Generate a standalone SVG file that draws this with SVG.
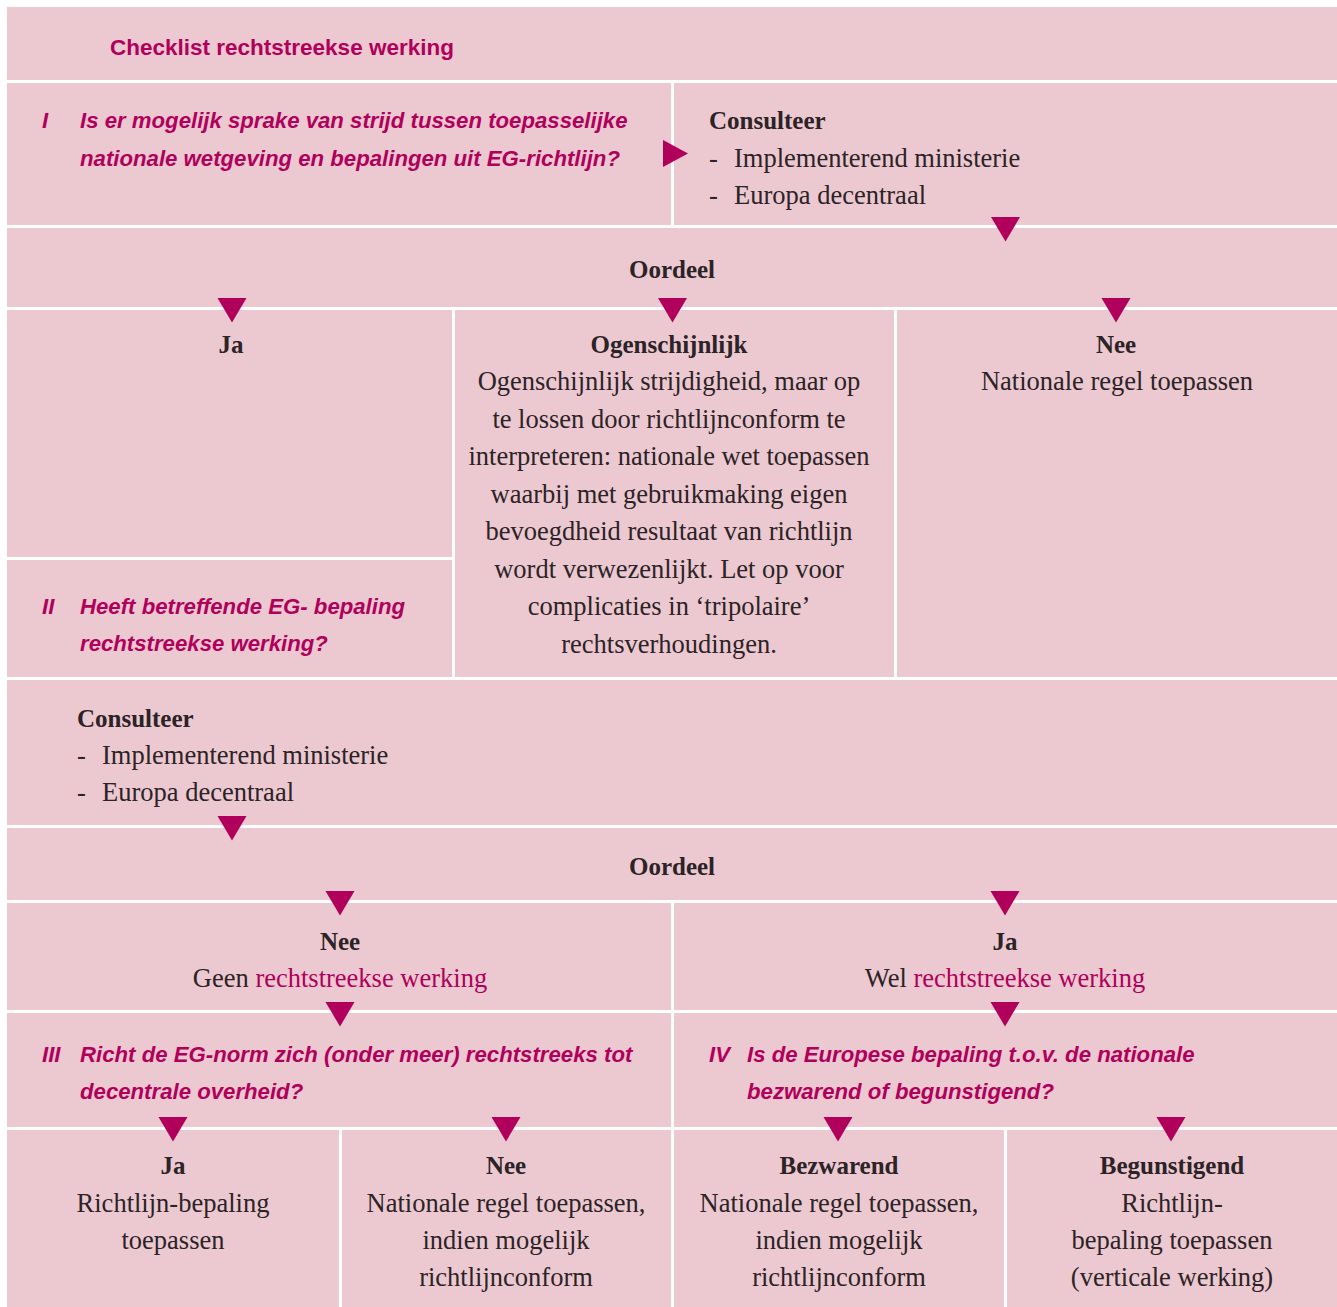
<svg xmlns="http://www.w3.org/2000/svg" xmlns:xlink="http://www.w3.org/1999/xlink" width="1337" height="1307" viewBox="0 0 1337 1307">
<style>
.cell{fill:#ecc8d0}
.tri{fill:#b0005c}
.q{font-family:"Liberation Sans",Arial,sans-serif;font-size:22.2px;font-weight:bold;font-style:italic;fill:#b0005c}
.h{font-family:"Liberation Sans",Arial,sans-serif;font-size:22.5px;font-weight:bold;fill:#b0005c}
.t{font-family:"Liberation Serif","Times New Roman",serif;font-size:26.5px;fill:#2b2326}
.b{font-family:"Liberation Serif","Times New Roman",serif;font-size:25px;font-weight:bold;fill:#2b2326}
.c{text-anchor:middle}
.m{fill:#b0005c}
</style>
<defs>
<path id="down" d="M-14.5,0 L14.5,0 L0,24.5 Z"/>
</defs>
<rect x="0" y="0" width="1337" height="1307" fill="#ffffff"/>
<g id="title"><rect class="cell" x="7" y="7" width="1330" height="73"/><text class="h" x="110" y="55">Checklist rechtstreekse werking</text></g>
<g id="q1"><rect class="cell" x="7" y="83" width="664" height="142"/>
<text class="q" x="42" y="128">I</text>
<text class="q" x="80" y="128">Is er mogelijk sprake van strijd tussen toepasselijke</text>
<text class="q" x="80" y="166">nationale wetgeving en bepalingen uit EG-richtlijn?</text></g>
<g id="consult1"><rect class="cell" x="674" y="83" width="663" height="142"/>
<text class="b" x="709" y="129">Consulteer</text>
<text class="t" x="709" y="167">-</text><text class="t" x="734" y="167">Implementerend ministerie</text>
<text class="t" x="709" y="204">-</text><text class="t" x="734" y="204">Europa decentraal</text></g>
<g id="oordeel1"><rect class="cell" x="7" y="228" width="1330" height="79"/><text class="b c" x="672" y="278">Oordeel</text></g>
<g id="ja1"><rect class="cell" x="7" y="310" width="445" height="247"/><text class="b c" x="231" y="353">Ja</text></g>
<g id="ogenschijnlijk"><rect class="cell" x="455" y="310" width="439" height="367"/>
<text class="b c" x="669" y="353">Ogenschijnlijk</text>
<text class="t c" x="669" y="390">Ogenschijnlijk strijdigheid, maar op</text>
<text class="t c" x="669" y="427.5">te lossen door richtlijnconform te</text>
<text class="t c" x="669" y="465">interpreteren: nationale wet toepassen</text>
<text class="t c" x="669" y="502.5">waarbij met gebruikmaking eigen</text>
<text class="t c" x="669" y="540">bevoegdheid resultaat van richtlijn</text>
<text class="t c" x="669" y="577.5">wordt verwezenlijkt. Let op voor</text>
<text class="t c" x="669" y="615">complicaties in ‘tripolaire’</text>
<text class="t c" x="669" y="652.5">rechtsverhoudingen.</text></g>
<g id="nee1"><rect class="cell" x="897" y="310" width="440" height="367"/>
<text class="b c" x="1116" y="353">Nee</text>
<text class="t c" x="1117" y="390">Nationale regel toepassen</text></g>
<g id="q2"><rect class="cell" x="7" y="560" width="445" height="117"/>
<text class="q" x="42" y="614">II</text>
<text class="q" x="80" y="614">Heeft betreffende EG- bepaling</text>
<text class="q" x="80" y="651">rechtstreekse werking?</text></g>
<g id="consult2"><rect class="cell" x="7" y="680" width="1330" height="145"/>
<text class="b" x="77" y="727">Consulteer</text>
<text class="t" x="77" y="764">-</text><text class="t" x="102" y="764">Implementerend ministerie</text>
<text class="t" x="77" y="801">-</text><text class="t" x="102" y="801">Europa decentraal</text></g>
<g id="oordeel2"><rect class="cell" x="7" y="828" width="1330" height="72"/><text class="b c" x="672" y="875">Oordeel</text></g>
<g id="nee2"><rect class="cell" x="7" y="903" width="664" height="107"/>
<text class="b c" x="340" y="950">Nee</text>
<text class="t c" x="340" y="987">Geen <tspan class="m">rechtstreekse werking</tspan></text></g>
<g id="ja2"><rect class="cell" x="674" y="903" width="663" height="107"/>
<text class="b c" x="1005" y="950">Ja</text>
<text class="t c" x="1005" y="987">Wel <tspan class="m">rechtstreekse werking</tspan></text></g>
<g id="q3"><rect class="cell" x="7" y="1013" width="664" height="114"/>
<text class="q" x="42" y="1062">III</text>
<text class="q" x="80" y="1062">Richt de EG-norm zich (onder meer) rechtstreeks tot</text>
<text class="q" x="80" y="1099">decentrale overheid?</text></g>
<g id="q4"><rect class="cell" x="674" y="1013" width="663" height="114"/>
<text class="q" x="709" y="1062">IV</text>
<text class="q" x="747" y="1062">Is de Europese bepaling t.o.v. de nationale</text>
<text class="q" x="747" y="1099">bezwarend of begunstigend?</text></g>
<g id="ja3"><rect class="cell" x="7" y="1130" width="332" height="177"/>
<text class="b c" x="173" y="1174">Ja</text>
<text class="t c" x="173" y="1212">Richtlijn-bepaling</text>
<text class="t c" x="173" y="1249">toepassen</text></g>
<g id="nee3"><rect class="cell" x="342" y="1130" width="329" height="177"/>
<text class="b c" x="506" y="1174">Nee</text>
<text class="t c" x="506" y="1212">Nationale regel toepassen,</text>
<text class="t c" x="506" y="1249">indien mogelijk</text>
<text class="t c" x="506" y="1286">richtlijnconform</text></g>
<g id="bezwarend"><rect class="cell" x="674" y="1130" width="330" height="177"/>
<text class="b c" x="839" y="1174">Bezwarend</text>
<text class="t c" x="839" y="1212">Nationale regel toepassen,</text>
<text class="t c" x="839" y="1249">indien mogelijk</text>
<text class="t c" x="839" y="1286">richtlijnconform</text></g>
<g id="begunstigend"><rect class="cell" x="1007" y="1130" width="330" height="177"/>
<text class="b c" x="1172" y="1174">Begunstigend</text>
<text class="t c" x="1172" y="1212">Richtlijn-</text>
<text class="t c" x="1172" y="1249">bepaling toepassen</text>
<text class="t c" x="1172" y="1286">(verticale werking)</text></g>
<g id="connectors" class="tri">
<path d="M663,140 L688,153.5 L663,167 Z"/>
<use xlink:href="#down" href="#down" x="1005.5" y="217"/>
<use xlink:href="#down" href="#down" x="232" y="298"/>
<use xlink:href="#down" href="#down" x="672.5" y="298"/>
<use xlink:href="#down" href="#down" x="1116" y="298"/>
<use xlink:href="#down" href="#down" x="232" y="816"/>
<use xlink:href="#down" href="#down" x="340" y="891"/>
<use xlink:href="#down" href="#down" x="1005" y="891"/>
<use xlink:href="#down" href="#down" x="340" y="1002"/>
<use xlink:href="#down" href="#down" x="1005" y="1002"/>
<use xlink:href="#down" href="#down" x="173" y="1117"/>
<use xlink:href="#down" href="#down" x="506" y="1117"/>
<use xlink:href="#down" href="#down" x="838" y="1117"/>
<use xlink:href="#down" href="#down" x="1171" y="1117"/>
</g>
</svg>
